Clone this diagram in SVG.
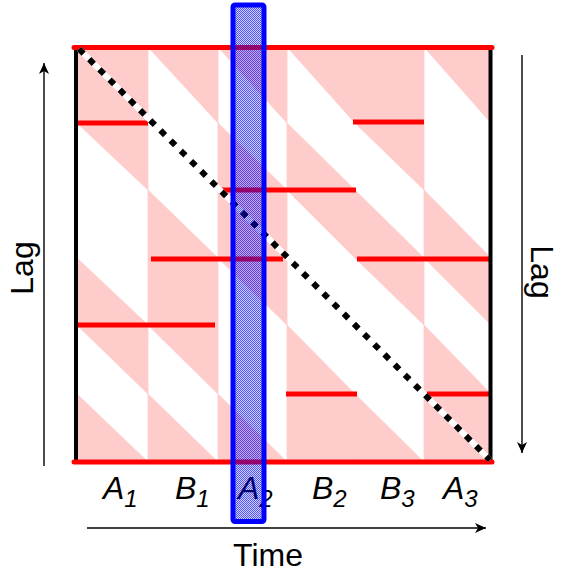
<svg xmlns="http://www.w3.org/2000/svg" width="562" height="572" viewBox="0 0 562 572">
<defs>
<style>
.pk{fill:#FFCCCC;stroke:#FFCCCC;stroke-width:0.8;stroke-linejoin:round}
.rl{stroke:#FF0000;stroke-width:5}
.bl{stroke:#000;stroke-width:4}
.ax{stroke:#000;stroke-width:1.4;fill:none;marker-end:url(#ah)}
.lb{font-family:"Liberation Sans",Arial,sans-serif;font-size:32px;font-style:italic;fill:#000}
.sub{font-size:24px}
.tt{font-family:"Liberation Sans",Arial,sans-serif;font-size:32px;fill:#000}
</style>
<marker id="ah" markerUnits="userSpaceOnUse" markerWidth="14" markerHeight="14" viewBox="-12 -7 14 14" refX="0" refY="0" orient="auto">
<path d="M0,0 L-11,-5 L-8,0 L-11,5 Z" fill="#000"/>
</marker>
<pattern id="chk" patternUnits="userSpaceOnUse" width="2" height="2">
<rect x="0" y="0" width="2" height="2" fill="#0000FF" fill-opacity="0.18"/>
<rect x="0" y="0" width="1" height="1" fill="#0000FF" fill-opacity="0.6"/>
<rect x="1" y="1" width="1" height="1" fill="#0000FF" fill-opacity="0.6"/>
</pattern>
</defs>
<rect width="562" height="572" fill="#fff"/>
<g id="pink">
<polygon class="pk" points="77,47 148,47 148,190 77,123"/>
<polygon class="pk" points="77,258 148,325 148,394 77,325"/>
<polygon class="pk" points="77,394 148,462 77,462"/>
<polygon class="pk" points="148,47 218,47 218,123"/>
<polygon class="pk" points="148,190 218,258 218,394 148,325"/>
<polygon class="pk" points="148,394 218,462 148,462"/>
<polygon class="pk" points="218,47 287,47 287,123"/>
<polygon class="pk" points="218,123 287,190 287,325 218,258"/>
<polygon class="pk" points="218,394 287,462 218,462"/>
<polygon class="pk" points="287,47 355,47 355,123"/>
<polygon class="pk" points="287,123 355,190 355,258 287,190"/>
<polygon class="pk" points="287,325 355,394 355,462 287,462"/>
<polygon class="pk" points="355,47 424,47 424,190 355,123"/>
<polygon class="pk" points="355,190 424,258 424,325 355,258"/>
<polygon class="pk" points="355,394 424,462 355,462"/>
<polygon class="pk" points="424,47 491,47 491,123"/>
<polygon class="pk" points="424,190 491,258 491,325 424,258"/>
<polygon class="pk" points="424,325 491,394 491,462 424,462"/>
</g>
<g id="redlines">
<line class="rl" x1="77" y1="123" x2="148" y2="123"/>
<line class="rl" x1="353" y1="122" x2="424" y2="122"/>
<line class="rl" x1="219" y1="190" x2="356" y2="190"/>
<line class="rl" x1="151" y1="259" x2="283" y2="259"/>
<line class="rl" x1="357" y1="259" x2="492" y2="259"/>
<line class="rl" x1="78" y1="325" x2="215" y2="325"/>
<line class="rl" x1="286" y1="394" x2="357" y2="394"/>
<line class="rl" x1="427" y1="394" x2="492" y2="394"/>
</g>
<g id="frame">
<line class="bl" x1="76" y1="47" x2="76" y2="462"/>
<line class="bl" x1="490.5" y1="47" x2="490.5" y2="462"/>
<line class="rl" x1="74" y1="47.5" x2="492" y2="47.5" stroke-linecap="round"/>
<line class="rl" x1="74" y1="462" x2="492" y2="462" stroke-linecap="round"/>
</g>
<g id="diagonal">
<line x1="79" y1="49" x2="490" y2="460" stroke="#fff" stroke-width="6"/>
<line x1="79" y1="49" x2="490" y2="460" stroke="#000" stroke-width="6" stroke-dasharray="6.5 7.9"/>
</g>
<g id="connectors">
<line class="ax" x1="44" y1="466" x2="44" y2="63"/>
<line class="ax" x1="522" y1="55" x2="522" y2="453"/>
<line class="ax" x1="87" y1="528" x2="486" y2="528"/>
</g>
<g id="labels">
<text class="lb" x="103" y="499">A<tspan class="sub" dy="8">1</tspan></text>
<text class="lb" x="175" y="499">B<tspan class="sub" dy="8">1</tspan></text>
<text class="lb" x="238" y="499">A<tspan class="sub" dy="8">2</tspan></text>
<text class="lb" x="312" y="499">B<tspan class="sub" dy="8">2</tspan></text>
<text class="lb" x="380" y="499">B<tspan class="sub" dy="8">3</tspan></text>
<text class="lb" x="443" y="499">A<tspan class="sub" dy="8">3</tspan></text>
<text class="tt" x="268" y="566" text-anchor="middle">Time</text>
<text class="tt" text-anchor="middle" transform="translate(33,268) rotate(-90)">Lag</text>
<text class="tt" text-anchor="middle" transform="translate(531,272) rotate(90)">Lag</text>
</g>
<g id="highlight">
<rect x="233" y="5" width="31" height="516.5" rx="2" fill="url(#chk)" stroke="#0000FF" stroke-width="5"/>
</g>
</svg>
